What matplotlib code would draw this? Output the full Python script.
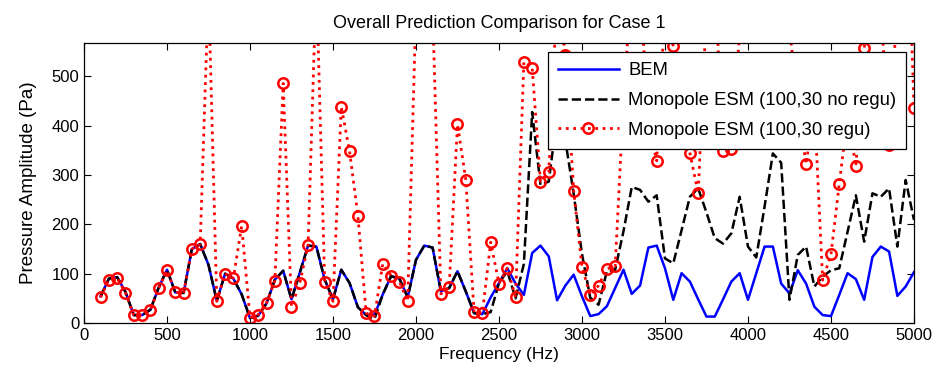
import numpy as np
import matplotlib
matplotlib.use("Agg")
import matplotlib.pyplot as plt

plt.rcParams['font.family'] = ['Liberation Sans', 'DejaVu Sans']
plt.rcParams['font.size'] = 12

# frequency grid (Hz)
freq = np.arange(100, 5001, 50)

# BEM reference
bem = [54, 90, 93, 63, 16, 16, 27, 72, 108, 62,
       61, 150, 160, 118, 45, 100, 90, 58, 10, 15,
       40, 88, 106, 48, 102, 157, 155, 88, 48, 108,
       81, 32, 16, 17, 58, 95, 90, 52, 128, 157,
       153, 64, 71, 105, 64, 20, 18, 52, 81, 111,
       80, 57, 142, 157, 135, 46, 76, 98, 54, 14,
       18, 34, 71, 108, 59, 76, 153, 157, 111, 47,
       101, 84, 48, 13, 13, 48, 84, 101, 47, 101,
       155, 155, 80, 60, 107, 80, 33, 16, 14, 57,
       101, 89, 47, 134, 155, 145, 55, 74, 103]

# monopole ESM without regularisation
esm_noreg = [54, 90, 93, 63, 16, 16, 27, 72, 108, 62,
             61, 150, 160, 118, 45, 100, 90, 58, 10, 15,
             40, 88, 106, 48, 102, 157, 155, 88, 48, 108,
             81, 32, 16, 8, 58, 95, 90, 52, 128, 157,
             153, 64, 71, 105, 64, 20, 18, 22, 81, 105,
             50, 120, 428, 280, 287, 420, 370, 262, 140, 51,
             37, 105, 108, 186, 276, 270, 246, 259, 131, 121,
             188, 256, 273, 224, 172, 161, 182, 256, 155, 133,
             236, 344, 325, 47, 138, 155, 74, 94, 107, 111,
             185, 259, 165, 263, 256, 273, 155, 290, 209]

# monopole ESM with regularisation
esm_reg = [52, 88, 91, 61, 16, 16, 26, 70, 107, 62,
           61, 150, 160, 680, 44, 100, 91, 197, 11, 17,
           41, 86, 486, 33, 81, 158, 700, 84, 44, 439,
           348, 218, 20, 14, 120, 96, 84, 44, 640, 700,
           640, 59, 72, 403, 291, 22, 20, 164, 80, 111,
           52, 530, 518, 287, 306, 670, 543, 268, 114, 56,
           76, 110, 115, 450, 700, 680, 405, 329, 640, 561,
           470, 345, 263, 634, 700, 349, 352, 590, 700, 700,
           700, 700, 700, 600, 440, 322, 440, 87, 139, 282,
           420, 318, 557, 700, 647, 362, 650, 950, 437]

fig = plt.figure(figsize=(9.48, 3.75), dpi=100)
ax = fig.add_axes([0.0886, 0.1387, 0.8755, 0.7467])

ax.plot(freq, bem, '-', color='blue', lw=1.8, label='BEM')
ax.plot(freq, esm_noreg, '--', color='black', lw=1.8, label='Monopole ESM (100,30 no regu)')
ax.plot(freq, esm_reg, ':', color='red', lw=2.0, marker='o', ms=7.5, mew=1.8,
        mfc='none', mec='red', label='Monopole ESM (100,30 regu)')

ax.set_xlim(0, 5000)
ax.set_ylim(0, 568)
ax.set_xticks(np.arange(0, 5001, 500))
ax.set_yticks(np.arange(0, 501, 100))
ax.tick_params(direction='in', top=True, right=True, length=5, width=0.8, labelsize=12)
for s in ax.spines.values():
    s.set_linewidth(0.9)

ax.set_title('Overall Prediction Comparison for Case 1', pad=11, fontsize=13)
ax.set_xlabel('Frequency (Hz)', labelpad=3, fontsize=12.5)
ax.set_ylabel('Pressure Amplitude (Pa)', labelpad=10, fontsize=13.5)

leg = ax.legend(loc='upper right', bbox_to_anchor=(0.991, 0.968), borderaxespad=0,
                fancybox=False, framealpha=1, edgecolor='black', handlelength=3.3,
                borderpad=0.55, labelspacing=0.7, fontsize=13.3, handletextpad=0.5)
leg.get_frame().set_linewidth(0.9)
leg.set_zorder(10)

fig.savefig('out.png', dpi=100)
